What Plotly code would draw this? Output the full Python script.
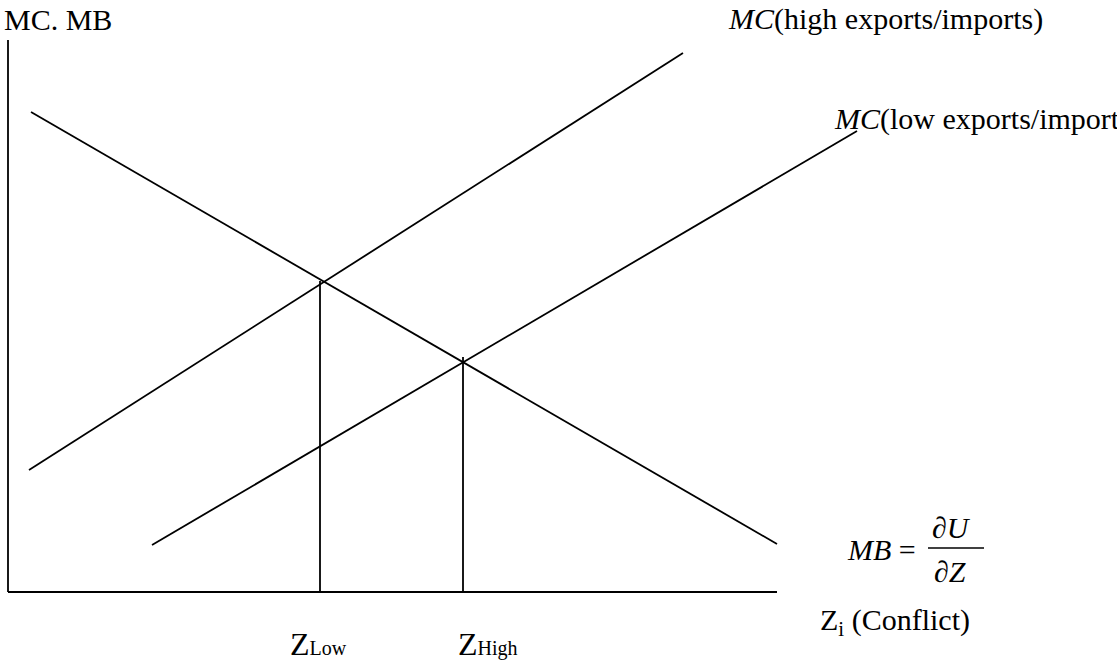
import plotly.graph_objects as go

# Data in abstract units (origin at the axes corner)
axis_x_max = 76.9
axis_y_max = 55.2

mb_x = [2.3, 76.9]
mb_y = [48.0, 4.8]

mc_high_x = [2.1, 67.5]
mc_high_y = [12.2, 53.9]

mc_low_x = [14.4, 84.9]
mc_low_y = [4.7, 46.1]

z_low = 31.2
z_low_top = 31.1
z_high = 45.5
z_high_top = 23.5

W, H = 1117, 661

line = dict(color="black", width=1.8)
fig = go.Figure()
fig.add_trace(go.Scatter(x=[0, 0], y=[0, axis_y_max], mode="lines", line=line))
fig.add_trace(go.Scatter(x=[0, axis_x_max], y=[0, 0], mode="lines", line=line))
fig.add_trace(go.Scatter(x=mb_x, y=mb_y, mode="lines", line=line))
fig.add_trace(go.Scatter(x=mc_high_x, y=mc_high_y, mode="lines", line=line))
fig.add_trace(go.Scatter(x=mc_low_x, y=mc_low_y, mode="lines", line=line))
fig.add_trace(go.Scatter(x=[z_low, z_low], y=[0, z_low_top], mode="lines", line=line))
fig.add_trace(go.Scatter(x=[z_high, z_high], y=[0, z_high_top], mode="lines", line=line))

F = "Liberation Serif, Times New Roman, serif"

def ann(text, xp, yp, size=30, xanchor="left"):
    fig.add_annotation(x=xp / W, y=1 - yp / H, xref="paper", yref="paper",
                       text=text, showarrow=False,
                       xanchor=xanchor, yanchor="middle", borderpad=0,
                       font=dict(family=F, size=size, color="black"))

ann("MC. MB", 3, 20)
ann("<i>MC</i>(high exports/imports)", 727, 19)
ann("<i>MC</i>(low exports/imports)", 833, 119)
ann("<i>MB</i> =", 846, 549)
ann("∂<i>U</i>", 951, 527, xanchor="center")
ann("∂<i>Z</i>", 950, 571, xanchor="center")
ann("Z<sub>i</sub> (Conflict)", 819, 622)
ann("Z<span style='font-size:20px'>Low</span>", 289, 644, size=32)
ann("Z<span style='font-size:20px'>High</span>", 457, 644, size=32)

fig.add_shape(type="line", x0=928 / W, x1=984 / W, y0=1 - 548 / H, y1=1 - 548 / H,
              xref="paper", yref="paper", line=dict(color="black", width=1.5))

fig.update_layout(
    width=W, height=H,
    margin=dict(l=0, r=0, t=0, b=0),
    paper_bgcolor="white", plot_bgcolor="white",
    showlegend=False,
    xaxis=dict(range=[-0.8, 110.9], visible=False, fixedrange=True),
    yaxis=dict(range=[-6.9, 59.2], visible=False, fixedrange=True),
)
fig.write_html("out.html", config={"displayModeBar": False},
               post_script="document.body.style.margin='0';document.body.style.overflow='hidden';")
